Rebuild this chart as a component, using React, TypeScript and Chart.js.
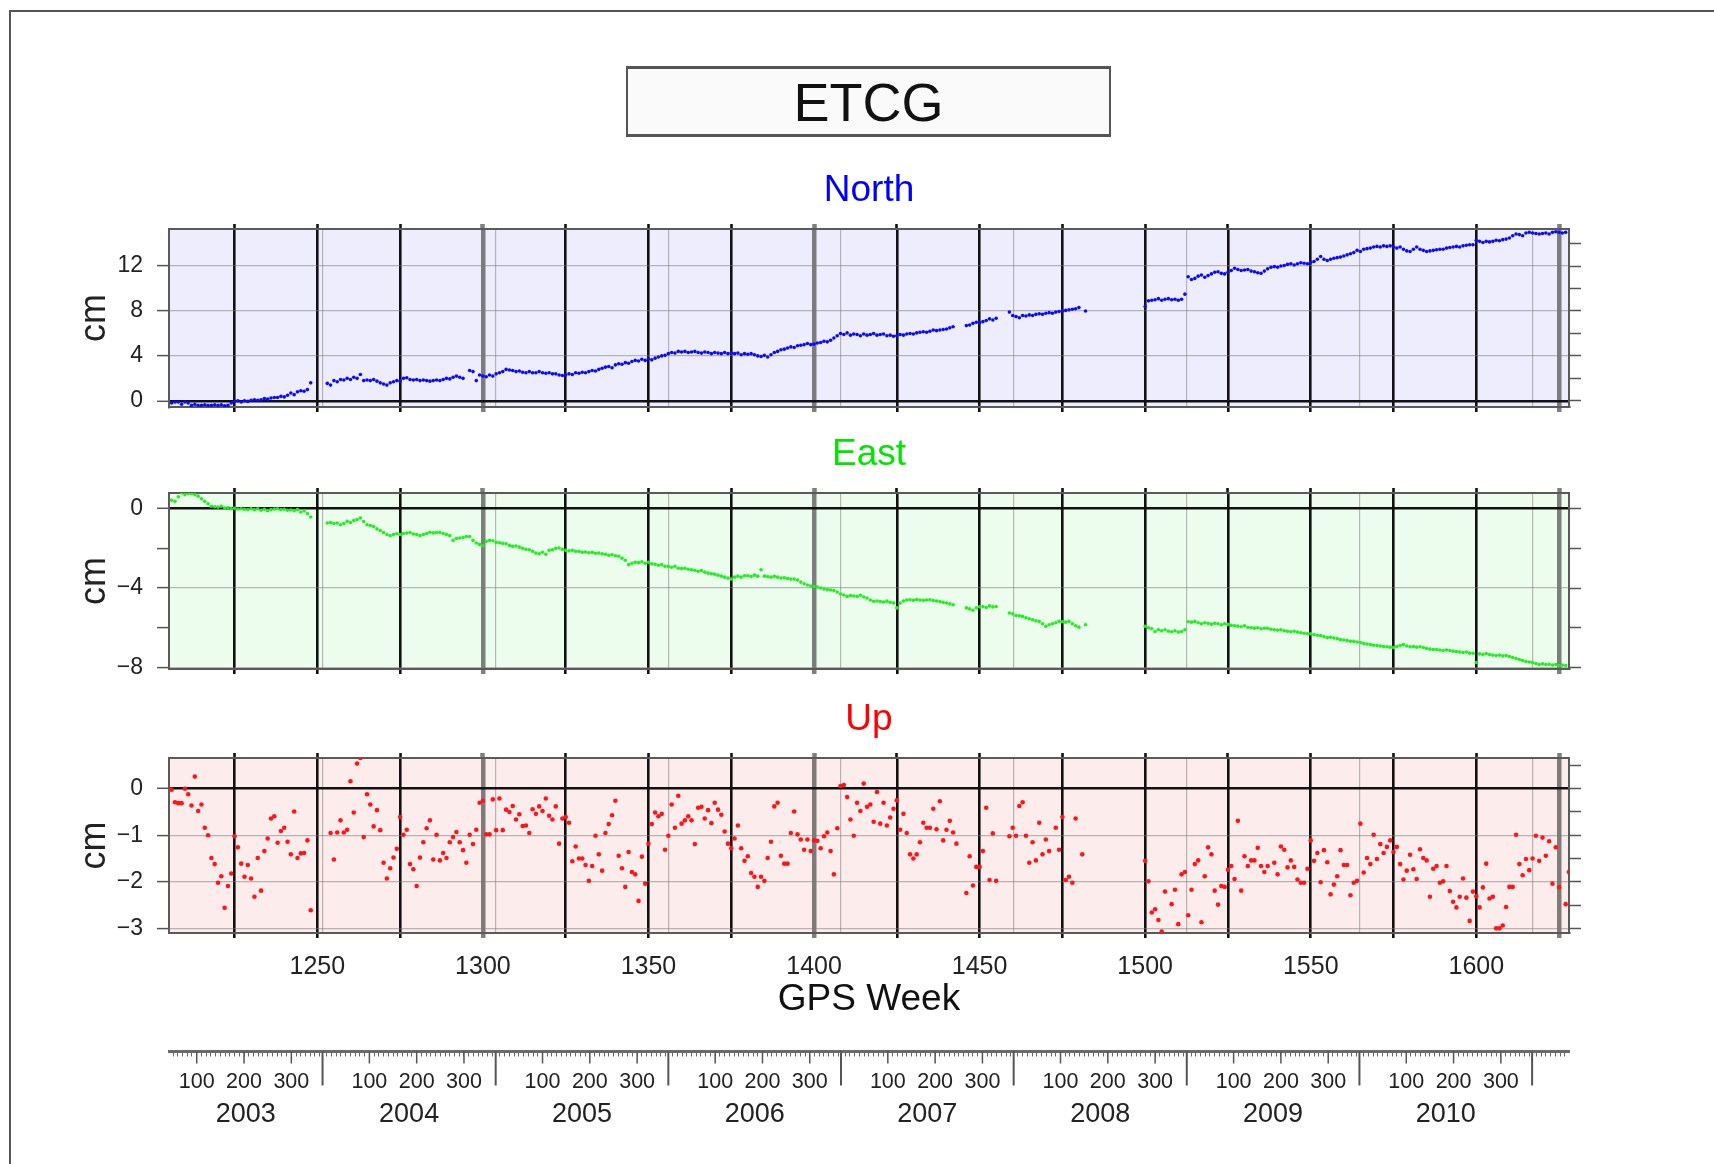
import React, { useEffect, useRef } from 'react';
import { Chart, registerables } from 'chart.js';

Chart.register(...registerables);

const FONT = '"Liberation Sans", Arial, Helvetica, sans-serif';
Chart.defaults.font.family = FONT;

// ---------- axis ranges / ticks ----------
const X_MIN = 1205.2;
const X_MAX = 1628;
const BLACK_WEEKS = [1225, 1250, 1275, 1325, 1350, 1375, 1425, 1450, 1475, 1500, 1525, 1550, 1575, 1600];
const GREY_WEEKS = [1300, 1400, 1625];
const WEEK_LABELS = [1250, 1300, 1350, 1400, 1450, 1500, 1550, 1600];
const YEARS = [2003, 2004, 2005, 2006, 2007, 2008, 2009, 2010, 2011];
const YEAR_STARTS = [1199.43, 1251.57, 1303.86, 1356.0, 1408.14, 1460.29, 1512.57, 1564.71, 1616.86];
const DAY_LABELS = [100, 200, 300];

const NORTH_Y_TICKS = [0, 2, 4, 6, 8, 10, 12, 14];
const NORTH_Y_LABELS = [0, 4, 8, 12];
const EAST_Y_TICKS = [-8, -6, -4, -2, 0];
const EAST_Y_LABELS = [-8, -4, 0];
const UP_Y_TICKS = [-3, -2.5, -2, -1.5, -1, -0.5, 0, 0.5];
const UP_Y_LABELS = [-3, -2, -1, 0];

// ---------- data (cm, one value per GPS week, null = missing) ----------
const NORTH_A = [-0.2,-0.1,-0.1,-0.3,-0.1,-0.2,-0.4,-0.3,-0.4,-0.4,
  -0.35,-0.4,-0.4,-0.35,-0.4,-0.35,-0.45,-0.4,-0.2,-0.05,
  0,-0.1,0,-0.05,0.05,0.1,0.05,0.1,0.2,0.15,
  0.25,0.3,0.3,0.4,0.35,0.5,0.7,0.55,0.8,0.9,
  0.85,1.0,1.6];
const NORTH_B = [1.55,1.4,1.8,1.7,1.9,1.85,2.0,1.9,2.1,2.0,
  2.35,1.8,1.85,1.8,1.9,1.75,1.6,1.5,1.4,1.6,
  1.7,1.8,1.75,2.0,2.05,1.9,1.85,1.9,1.8,1.85,
  1.8,1.75,1.8,1.85,1.8,1.9,2.0,1.95,2.1,2.2,
  2.1,2.0,null,2.7,2.6,1.8,2.3,2.2,2.15,2.3,
  2.2,2.4,2.5,2.6,2.8,2.75,2.7,2.6,2.65,2.55,
  2.5,2.6,2.5,2.5,2.6,2.5,2.45,2.5,2.4,2.4,
  2.3,2.25,2.3,2.4,2.35,2.5,2.45,2.55,2.5,2.6,
  2.7,2.65,2.8,2.9,3.0,3.05,2.95,3.2,3.3,3.25,
  3.4,3.35,3.5,3.6,3.55,3.7,3.6,3.75,3.65,3.8,
  3.9,4.0,4.05,4.2,4.3,4.25,4.4,4.35,4.4,4.3,
  4.35,4.4,4.3,4.25,4.35,4.3,4.2,4.3,4.25,4.2,
  4.3,4.2,4.25,4.2,4.25,4.1,4.2,4.15,4.2,4.1,
  4.0,3.95,4.05,3.9,4.1,4.3,4.4,4.55,4.6,4.7,
  4.8,4.75,4.9,4.95,5.0,5.1,5.0,5.05,5.15,5.2,
  5.3,5.25,5.4,5.6,5.8,6.0,5.9,6.05,5.85,5.95,
  5.9,5.8,5.95,5.85,5.9,6.0,5.85,5.9,5.95,5.8,
  5.85,5.75,5.8,5.9,5.85,5.95,6.0,5.95,6.05,6.1,
  6.15,6.1,6.2,6.3,6.25,6.3,6.35,6.4,6.5,6.6,
  null,null,null,6.7,6.75,6.9,7.0,6.95,7.05,7.15,
  7.3,7.2,7.35,null,null,null,7.9,7.6,7.5,7.4,
  7.6,7.55,7.65,7.6,7.7,7.75,7.7,7.8,7.85,7.8,
  7.9,7.95,8.0,8.05,8.1,8.15,8.2,8.3,null,8.0];
const NORTH_C = [8.4,8.9,8.95,9.0,9.1,8.95,9.05,9.1,9.0,9.05,
  8.95,9.05,9.5,11.05,10.8,10.9,11.1,11.2,11.0,11.15,
  11.3,11.45,11.5,11.35,11.3,11.45,11.6,11.8,11.7,11.6,
  11.65,11.7,11.55,11.5,11.4,11.35,11.55,11.75,11.9,11.95,
  11.9,12.0,12.05,12.15,12.2,12.1,12.2,12.3,12.25,12.2,
  12.35,12.4,12.6,12.85,12.6,12.5,12.6,12.7,12.75,12.8,
  12.9,13.0,13.1,13.2,13.4,13.3,13.5,13.55,13.6,13.7,
  13.75,13.7,13.8,13.75,13.8,13.7,13.6,13.7,13.5,13.35,
  13.3,13.5,13.7,13.5,13.4,13.3,13.35,13.4,13.45,13.5,
  13.5,13.6,13.65,13.7,13.75,13.7,13.8,13.85,13.9,13.9,
  14.3,14.2,14.1,14.2,14.15,14.2,14.3,14.25,14.35,14.4,
  14.5,14.7,14.85,14.8,14.7,14.95,15.0,14.95,14.9,14.85,
  14.9,14.95,14.85,15.0,15.05,15.0,14.95,15.0];

const EAST_A = [0.42,0.37,0.6,0.79,0.7,0.76,0.76,0.7,0.63,0.5,
  0.37,0.25,0.12,0.1,0.08,0.12,0.03,0.05,0.0,0.02,
  -0.02,0.0,-0.03,-0.05,0.0,-0.05,0.0,-0.08,-0.03,-0.1,
  -0.05,-0.02,0.0,-0.05,-0.03,-0.08,-0.07,-0.1,-0.05,-0.17,
  -0.12,-0.25,-0.42];
const EAST_B = [-0.72,-0.7,-0.75,-0.72,-0.81,-0.75,-0.64,-0.7,-0.6,-0.55,
  -0.47,-0.65,-0.81,-0.85,-0.9,-1.02,-1.1,-1.2,-1.3,-1.36,
  -1.3,-1.26,-1.3,-1.25,-1.23,-1.2,-1.28,-1.3,-1.36,-1.3,
  -1.25,-1.19,-1.22,-1.2,-1.19,-1.25,-1.3,-1.36,-1.6,-1.5,
  -1.48,-1.45,-1.4,-1.4,-1.6,-1.73,-1.8,-1.87,-1.65,-1.6,
  -1.62,-1.7,-1.72,-1.75,-1.77,-1.85,-1.9,-1.88,-1.94,-2.0,
  -2.05,-2.07,-2.15,-2.24,-2.27,-2.2,-2.3,-2.1,-2.07,-2.0,
  -1.98,-2.05,-2.1,-2.12,-2.1,-2.15,-2.15,-2.2,-2.18,-2.22,
  -2.2,-2.25,-2.24,-2.28,-2.3,-2.35,-2.32,-2.37,-2.4,-2.5,
  -2.6,-2.82,-2.75,-2.7,-2.72,-2.68,-2.75,-2.7,-2.78,-2.8,
  -2.85,-2.82,-2.9,-2.91,-2.95,-2.9,-3.0,-3.02,-3.0,-3.05,
  -3.08,-3.1,-3.15,-3.12,-3.2,-3.25,-3.28,-3.3,-3.35,-3.4,
  -3.45,-3.5,-3.55,-3.45,-3.4,-3.45,-3.38,-3.38,-3.42,-3.35,
  -3.4,-3.08,-3.4,-3.42,-3.45,-3.41,-3.45,-3.5,-3.48,-3.52,
  -3.55,-3.55,-3.6,-3.7,-3.78,-3.85,-3.9,-3.92,-3.95,-4.0,
  -4.05,-4.08,-4.1,-4.12,-4.2,-4.3,-4.35,-4.42,-4.38,-4.4,
  -4.42,-4.36,-4.45,-4.5,-4.6,-4.67,-4.65,-4.68,-4.7,-4.66,
  -4.72,-4.75,-5.0,-4.75,-4.65,-4.6,-4.59,-4.62,-4.58,-4.6,
  -4.62,-4.6,-4.59,-4.63,-4.65,-4.68,-4.72,-4.75,-4.8,-4.84,
  null,null,null,-5.0,-5.05,-5.12,-5.0,-4.95,-4.93,-4.98,
  -4.9,-4.95,-4.93,null,null,null,-5.26,-5.3,-5.38,-5.4,
  -5.43,-5.5,-5.55,-5.6,-5.65,-5.68,-5.8,-5.93,-5.85,-5.8,
  -5.75,-5.68,-5.7,-5.72,-5.68,-5.8,-5.9,-5.97,null,-5.85];
const EAST_C = [-5.93,-6.0,-6.05,-6.19,-6.1,-6.15,-6.1,-6.18,-6.2,-6.15,
  -6.22,-6.19,-6.1,-5.7,-5.72,-5.68,-5.75,-5.8,-5.75,-5.78,
  -5.82,-5.78,-5.8,-5.85,-5.8,-5.83,-5.88,-5.9,-5.92,-5.95,
  -5.9,-5.98,-6.0,-6.02,-6.0,-6.05,-6.03,-6.03,-6.08,-6.1,
  -6.12,-6.1,-6.15,-6.18,-6.2,-6.18,-6.22,-6.25,-6.28,-6.3,
  -6.3,-6.35,-6.38,-6.4,-6.45,-6.5,-6.48,-6.52,-6.55,-6.6,
  -6.62,-6.65,-6.68,-6.69,-6.72,-6.75,-6.8,-6.82,-6.85,-6.88,
  -6.9,-6.92,-6.95,-6.96,-6.98,-7.0,-6.95,-6.9,-6.85,-6.92,
  -6.96,-6.95,-6.98,-6.96,-7.0,-7.05,-7.08,-7.1,-7.1,-7.12,
  -7.15,-7.12,-7.15,-7.18,-7.2,-7.22,-7.25,-7.22,-7.28,-7.29,
  -7.75,-7.32,-7.35,-7.3,-7.35,-7.38,-7.4,-7.38,-7.42,-7.4,
  -7.45,-7.5,-7.55,-7.6,-7.65,-7.7,-7.73,-7.75,-7.8,-7.85,
  -7.82,-7.85,-7.84,-7.88,-7.85,-7.9,-7.88,-7.9];

const UP_A = [-0.02,-0.29,-0.31,-0.31,0,-0.12,-0.36,0.26,-0.48,-0.34,
  -0.84,-1.0,-1.49,-1.62,-2.02,-1.88,-2.56,-2.09,-1.82,-1.02,
  -1.26,-1.61,-1.89,-1.64,-1.93,-2.32,-1.49,-2.19,-1.34,-1.07,
  -0.64,-0.59,-1.16,-0.91,-0.84,-1.14,-1.41,-0.49,-1.49,-1.39,
  -1.38,-1.11,-2.61];
const UP_B = [-0.95,-1.52,-0.94,-0.68,-0.94,-0.88,0.16,-0.51,0.54,0.66,
  -1.04,-0.12,-0.34,-0.81,-0.46,-0.89,-1.59,-1.93,-1.71,-1.48,
  -1.29,-0.61,-0.99,-0.88,-1.62,-1.73,-2.09,-1.48,-1.15,-0.85,
  -0.68,-1.52,-0.99,-1.54,-1.38,-1.49,-1.15,-1.04,-0.93,-1.15,
  -1.32,-1.59,-0.99,-1.19,-0.88,-0.30,-0.26,-0.98,-0.98,-0.23,
  -0.89,-0.21,-0.89,-0.45,-0.50,-0.37,-0.66,-0.55,-0.80,-0.79,
  -0.95,-0.44,-0.54,-0.38,-0.48,-0.21,-0.58,-0.66,-0.38,-1.18,
  -0.64,-0.61,-0.73,-1.56,-1.24,-1.50,-1.50,-1.64,-1.98,-1.66,
  -1.01,-1.41,-1.76,-0.95,-0.76,-0.57,-0.26,-1.44,-1.71,-2.11,
  -1.36,-1.79,-1.84,-2.41,-1.46,-2.04,-1.18,-0.76,-0.51,-0.59,
  -0.54,-1.31,-1.01,-0.34,-0.84,-0.15,-0.75,-0.68,-0.59,-0.68,
  -1.19,-0.41,-0.39,-0.64,-0.46,-0.74,-0.30,-0.45,-0.56,-0.92,
  -1.18,-1.28,-1.07,-0.79,-1.28,-1.55,-1.45,-1.81,-1.89,-2.11,
  -1.89,-1.98,-1.49,-1.14,-0.38,-0.30,-1.44,-1.61,-1.61,-0.95,
  -0.49,-0.98,-1.09,-1.31,-1.09,-1.34,-1.11,-1.12,-1.28,-1.02,
  -0.94,-1.34,-1.84,-0.85,0.06,0.08,-0.18,-0.66,-1.01,-0.30,
  -0.48,0.11,-0.39,-0.34,-0.71,-0.07,-0.75,-0.30,-0.79,-0.62,
  -0.43,-0.25,-0.88,-0.54,-0.95,-1.41,-1.50,-1.41,-1.15,-0.73,
  -0.84,-0.84,-0.43,-0.87,-0.27,-1.11,-0.88,-0.69,-0.94,-1.18,
  null,null,-2.24,-1.45,-2.08,-1.68,-1.68,-1.34,-0.41,-1.96,
  -0.96,-1.98,null,null,null,-1.02,-0.84,-1.01,-0.37,-0.29,
  -1.01,-1.59,-1.15,-1.54,-0.73,-1.41,-1.09,-1.34,null,-0.84,
  -1.31,-0.61,-1.96,-1.89,-2.02,-0.64,null,-1.41];
const UP_C = [-1.55,-1.99,-2.66,-2.59,-2.82,-3.07,-2.21,null,-2.48,-2.17,
  -2.91,-1.84,-1.79,-2.72,-2.17,-1.62,-1.54,-2.87,-1.88,-1.26,
  -1.41,-2.19,-2.49,-2.09,-2.11,-1.74,-1.66,-1.94,-0.69,-2.19,
  -1.45,-1.66,-1.54,-1.54,-1.27,-1.66,-1.79,-1.66,null,-1.59,
  -1.84,-1.24,-1.31,-1.69,-1.54,-1.68,-1.95,-2.02,-2.02,-1.72,
  -1.11,-1.55,-1.38,-2.01,-1.32,-1.58,-2.27,-2.06,-1.88,-1.32,
  -1.64,-1.64,-2.29,-2.02,-1.98,-0.75,-1.80,-1.49,-1.62,-0.99,
  -1.51,-1.19,-1.38,-1.25,-1.11,-1.36,-1.25,-1.62,-1.95,-1.76,
  -1.42,-1.73,-1.94,-1.30,-1.49,-1.54,-2.32,-1.72,-1.66,-2.02,
  -1.99,-1.66,-2.20,-2.43,-2.55,-2.32,-1.93,-2.34,-2.84,-2.21,
  -2.31,-2.55,-2.12,-1.61,-2.36,-2.32,-3.0,-3.0,-2.94,-2.54,
  -2.11,-2.11,-0.99,-1.62,-1.86,-1.51,-1.75,-1.50,-1.01,-1.55,
  -1.05,-1.44,-1.13,-2.04,-1.26,-2.12,null,-2.48,-1.79];

const NORTH_SEGMENTS: [number, (number | null)[]][] = [[1206, NORTH_A], [1253, NORTH_B], [1500, NORTH_C]];
const EAST_SEGMENTS: [number, (number | null)[]][] = [[1206, EAST_A], [1253, EAST_B], [1500, EAST_C]];
const UP_SEGMENTS: [number, (number | null)[]][] = [[1206, UP_A], [1254, UP_B], [1500, UP_C]];

// ---------- helpers ----------
function toPoints(segs: [number, (number | null)[]][]) {
  const pts: { x: number; y: number }[] = [];
  segs.forEach(([start, vals]) => vals.forEach((v, i) => { if (v !== null) pts.push({ x: start + i, y: v }); }));
  return pts;
}
const fmt = (v: number) => (v < 0 ? '\u2212' + Math.abs(v) : String(v));
const inRange = (w: number) => w > X_MIN && w < X_MAX;

const V_LINES = Array.from(new Set([...BLACK_WEEKS, ...GREY_WEEKS, ...YEAR_STARTS.filter(inRange)])).sort((a, b) => a - b);
const vColor = (v: number) => (GREY_WEEKS.includes(v) ? 'rgba(95,95,95,0.8)' : BLACK_WEEKS.includes(v) ? '#111' : 'rgba(130,130,130,0.55)');
const vWidth = (v: number) => (GREY_WEEKS.includes(v) ? 4.5 : BLACK_WEEKS.includes(v) ? 2.6 : 1.2);
const vTick = (v: number) => (GREY_WEEKS.includes(v) || BLACK_WEEKS.includes(v) ? vColor(v) : 'rgba(0,0,0,0)');

const DAY_TICKS: { value: number; day: number }[] = [];
YEAR_STARTS.forEach((s) => {
  for (let d = 10; d <= 360; d += 10) {
    const w = s + (d - 1) / 7;
    if (w >= X_MIN && w <= X_MAX) DAY_TICKS.push({ value: w, day: d });
  }
});
const YEAR_LABEL_TICKS: { value: number; year: number }[] = [];
YEAR_STARTS.forEach((s, i) => {
  const e = i + 1 < YEAR_STARTS.length ? YEAR_STARTS[i + 1] : s + 365.25 / 7;
  const a = Math.max(s, X_MIN), b = Math.min(e, X_MAX);
  if (b - a > 20) YEAR_LABEL_TICKS.push({ value: (a + b) / 2, year: YEARS[i] });
});

const bgPlugin = {
  id: 'panelBg',
  beforeDraw(chart: any, _a: any, opts: any) {
    const { ctx, chartArea: a } = chart;
    ctx.save();
    ctx.fillStyle = opts.color;
    ctx.fillRect(a.left, a.top, a.right - a.left, a.bottom - a.top);
    ctx.restore();
  },
};

const yearTickPlugin = {
  id: 'yearTicks',
  afterDraw(chart: any) {
    const s = chart.scales.xDay;
    if (!s) return;
    const ctx = chart.ctx;
    ctx.save();
    ctx.strokeStyle = '#555';
    const line = (x: number, len: number, w: number) => {
      ctx.lineWidth = w;
      ctx.beginPath();
      ctx.moveTo(x, s.top);
      ctx.lineTo(x, s.top + len);
      ctx.stroke();
    };
    YEAR_STARTS.forEach((st) => {
      if (st >= X_MIN && st <= X_MAX) line(s.getPixelForValue(st), 34, 2);
      DAY_LABELS.forEach((d) => {
        const w = st + (d - 1) / 7;
        if (w >= X_MIN && w <= X_MAX) line(s.getPixelForValue(w), 12, 1.5);
      });
    });
    ctx.restore();
  },
};

const noPad = (s: any) => { s.paddingTop = 0; s.paddingBottom = 0; s.paddingLeft = 0; s.paddingRight = 0; };

type Panel = {
  title: string; titleColor: string; bg: string; color: string; radius: number;
  points: { x: number; y: number }[]; yMin: number; yMax: number; yTicks: number[]; yLabels: number[];
  titlePad: [number, number]; topH: number; bottomH: number; full?: boolean;
};

function buildConfig(p: Panel): any {
  const yGridColor = (ctx: any) => {
    const v = ctx.tick ? ctx.tick.value : NaN;
    if (v === 0) return '#111';
    return p.yLabels.includes(v) ? 'rgba(120,120,120,0.5)' : 'rgba(0,0,0,0)';
  };
  const yGridWidth = (ctx: any) => (ctx.tick && ctx.tick.value === 0 ? 2.6 : 1.2);
  const scales: any = {
    x: {
      type: 'linear', axis: 'x', position: 'bottom', min: X_MIN, max: X_MAX, weight: 0,
      afterBuildTicks: (s: any) => { s.ticks = V_LINES.map((v) => ({ value: v })); },
      afterFit: (s: any) => { s.height = p.bottomH; noPad(s); },
      ticks: {
        display: !!p.full, autoSkip: false, maxRotation: 0, minRotation: 0, padding: 14,
        color: '#222', font: { size: 25 },
        callback: (v: number) => (WEEK_LABELS.includes(v) ? String(v) : ''),
      },
      grid: {
        drawOnChartArea: true, drawTicks: true, tickLength: 5,
        color: (c: any) => vColor(c.tick.value), lineWidth: (c: any) => vWidth(c.tick.value),
        tickColor: (c: any) => vTick(c.tick.value), tickWidth: (c: any) => vWidth(c.tick.value),
      },
      border: { display: true, color: '#5a5a5a', width: 2 },
      title: p.full
        ? { display: true, text: 'GPS Week', color: '#111', font: { size: 37 }, padding: { top: 0, bottom: 29.5 } }
        : { display: false },
    },
    xTop: {
      type: 'linear', axis: 'x', position: 'top', min: X_MIN, max: X_MAX,
      afterBuildTicks: (s: any) => { s.ticks = V_LINES.map((v) => ({ value: v })); },
      afterFit: (s: any) => { s.height = p.topH; noPad(s); },
      ticks: { display: false, autoSkip: false },
      grid: {
        drawOnChartArea: false, drawTicks: true, tickLength: 5,
        tickColor: (c: any) => vTick(c.tick.value), tickWidth: (c: any) => vWidth(c.tick.value),
      },
      border: { display: true, color: '#5a5a5a', width: 2 },
    },
    y: {
      type: 'linear', axis: 'y', position: 'left', min: p.yMin, max: p.yMax,
      afterBuildTicks: (s: any) => { s.ticks = p.yTicks.map((v) => ({ value: v })); },
      afterFit: (s: any) => { s.width = 169; noPad(s); },
      ticks: { padding: 14, color: '#222', font: { size: 23 }, callback: (v: number) => (p.yLabels.includes(v) ? fmt(v) : '') },
      grid: { drawTicks: true, tickLength: 12, color: yGridColor, lineWidth: yGridWidth, tickColor: '#555', tickWidth: 1.5 },
      border: { display: true, color: '#5a5a5a', width: 2 },
      title: { display: true, text: 'cm', color: '#222', font: { size: 36 }, padding: { top: 73.4, bottom: 0 } },
    },
    yRight: {
      type: 'linear', axis: 'y', position: 'right', min: p.yMin, max: p.yMax,
      afterBuildTicks: (s: any) => { s.ticks = p.yTicks.map((v) => ({ value: v })); },
      afterFit: (s: any) => { s.width = 145; noPad(s); },
      ticks: { display: false },
      grid: { drawOnChartArea: false, drawTicks: true, tickLength: 12, tickColor: '#555', tickWidth: 1.5 },
      border: { display: true, color: '#5a5a5a', width: 2 },
    },
  };
  if (p.full) {
    scales.xDay = {
      type: 'linear', axis: 'x', position: 'bottom', min: X_MIN, max: X_MAX, weight: 1,
      afterBuildTicks: (s: any) => { s.ticks = DAY_TICKS.map((t) => ({ ...t })); },
      afterFit: (s: any) => { s.height = 43.5; noPad(s); },
      ticks: {
        autoSkip: false, maxRotation: 0, minRotation: 0, padding: 13, color: '#222', font: { size: 21.5 },
        callback: (_v: number, i: number, ticks: any[]) => (DAY_LABELS.includes(ticks[i].day) ? String(ticks[i].day) : ''),
      },
      grid: { drawOnChartArea: false, drawTicks: true, tickLength: 5, tickColor: '#666', tickWidth: 1 },
      border: { display: true, color: '#6a6a6a', width: 3 },
    };
    scales.xYear = {
      type: 'linear', axis: 'x', position: 'bottom', min: X_MIN, max: X_MAX, weight: 2,
      afterBuildTicks: (s: any) => { s.ticks = YEAR_LABEL_TICKS.map((t) => ({ ...t })); },
      afterFit: (s: any) => { s.height = 45; noPad(s); },
      ticks: {
        autoSkip: false, maxRotation: 0, minRotation: 0, padding: 3.6, color: '#222', font: { size: 27 },
        callback: (_v: number, i: number, ticks: any[]) => String(ticks[i].year),
      },
      grid: { display: false, drawTicks: false },
      border: { display: false },
    };
  }
  return {
    type: 'scatter',
    data: {
      datasets: [{
        data: p.points, xAxisID: 'x', yAxisID: 'y', showLine: false,
        pointRadius: p.radius, pointHoverRadius: p.radius, pointBackgroundColor: p.color,
        pointBorderColor: p.color, pointBorderWidth: 0,
      }],
    },
    options: {
      animation: false, responsive: false, maintainAspectRatio: false, events: [],
      layout: { padding: 0, autoPadding: false },
      plugins: {
        legend: { display: false }, tooltip: { enabled: false },
        title: {
          display: true, text: p.title, color: p.titleColor, fullSize: false,
          font: { size: 37, weight: 'normal' }, padding: { top: p.titlePad[0], bottom: p.titlePad[1] },
        },
        panelBg: { color: p.bg },
      },
      scales,
    },
    plugins: p.full ? [bgPlugin, yearTickPlugin] : [bgPlugin],
  };
}

const PANELS: Panel[] = [
  { title: 'North', titleColor: '#0000ff', bg: 'rgb(237,237,253)', color: '#0a0aff', radius: 1.8,
    points: toPoints(NORTH_SEGMENTS), yMin: -0.55, yMax: 15.3, yTicks: NORTH_Y_TICKS, yLabels: NORTH_Y_LABELS,
    titlePad: [8.8, 1.8], topH: 14, bottomH: 18 },
  { title: 'East', titleColor: '#00e600', bg: 'rgb(237,253,237)', color: '#22ee22', radius: 1.8,
    points: toPoints(EAST_SEGMENTS), yMin: -8.08, yMax: 0.79, yTicks: EAST_Y_TICKS, yLabels: EAST_Y_LABELS,
    titlePad: [7.8, 2.8], topH: 13, bottomH: 16 },
  { title: 'Up', titleColor: '#ff0000', bg: 'rgb(253,236,236)', color: '#ff1515', radius: 2.3,
    points: toPoints(UP_SEGMENTS), yMin: -3.1, yMax: 0.66, yTicks: UP_Y_TICKS, yLabels: UP_Y_LABELS,
    titlePad: [12.3, 3.3], topH: 13, bottomH: 118.5, full: true },
];
const CANVAS_BOXES = [
  { top: 160, height: 265 },
  { top: 425, height: 260 },
  { top: 685, height: 455 },
];

export default function App() {
  const refs = [useRef<HTMLCanvasElement>(null), useRef<HTMLCanvasElement>(null), useRef<HTMLCanvasElement>(null)];
  useEffect(() => {
    const charts = PANELS.map((p, i) => new Chart(refs[i].current as HTMLCanvasElement, buildConfig(p)));
    return () => charts.forEach((c) => c.destroy());
  }, []);
  return (
    <div style={{ position: 'absolute', left: 0, top: 0, width: 1714, height: 1164, overflow: 'hidden', background: '#fff', fontFamily: FONT }}>
      <div style={{ position: 'absolute', left: 9, top: 10, width: 1800, height: 1300, borderLeft: '2px solid #555', borderTop: '2px solid #555' }} />
      <div style={{
        position: 'absolute', left: 626, top: 66, width: 485, height: 71, boxSizing: 'border-box',
        border: '2px solid #555', borderTopWidth: 3, borderBottomWidth: 3, background: '#fafafa',
        display: 'flex', alignItems: 'center', justifyContent: 'center',
        fontSize: 54, color: '#111', lineHeight: 1,
      }}>ETCG</div>
      {CANVAS_BOXES.map((b, i) => (
        <canvas key={i} ref={refs[i]} width={1714} height={b.height}
          style={{ position: 'absolute', left: 0, top: b.top, width: 1714, height: b.height }} />
      ))}
    </div>
  );
}
